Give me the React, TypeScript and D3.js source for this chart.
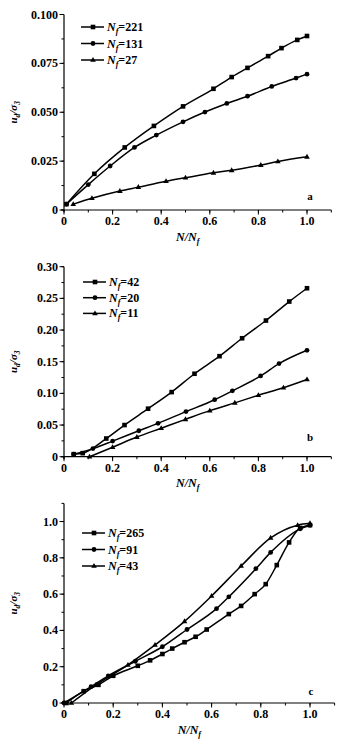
import React from "react";
import * as d3 from "d3";

// Panel a
const aLabels = ["221", "131", "27"];
const aSquare: [number, number][] = [[0.01,0.003],[0.125,0.0185],[0.25,0.032],[0.37,0.043],[0.49,0.053],[0.615,0.062],[0.69,0.068],[0.755,0.0727],[0.84,0.0787],[0.895,0.0828],[0.96,0.087],[1.0,0.089]];
const aCircle: [number, number][] = [[0.01,0.003],[0.1,0.013],[0.19,0.0225],[0.29,0.032],[0.38,0.0383],[0.49,0.0451],[0.58,0.0501],[0.67,0.0545],[0.755,0.0582],[0.855,0.0632],[0.955,0.0675],[1.0,0.0695]];
const aTriangle: [number, number][] = [[0.038,0.003],[0.115,0.006],[0.23,0.0097],[0.306,0.0117],[0.42,0.0147],[0.5,0.0165],[0.615,0.019],[0.69,0.0203],[0.81,0.023],[0.88,0.0248],[1.0,0.0272]];
const aYTicks = [0, 0.025, 0.05, 0.075, 0.1];
const aYLabels = ["0", "0.025", "0.050", "0.075", "0.100"];

// Panel b
const bLabels = ["42", "20", "11"];
const bSquare: [number, number][] = [[0.04,0.004],[0.077,0.0056],[0.174,0.0287],[0.249,0.05],[0.346,0.0758],[0.443,0.102],[0.537,0.131],[0.64,0.1587],[0.733,0.187],[0.831,0.215],[0.927,0.245],[1.0,0.266]];
const bCircle: [number, number][] = [[0.04,0.004],[0.119,0.0128],[0.2,0.0246],[0.308,0.041],[0.387,0.0527],[0.502,0.0712],[0.62,0.09],[0.693,0.104],[0.809,0.1275],[0.885,0.147],[1.0,0.168]];
const bTriangle: [number, number][] = [[0.105,0.0],[0.2,0.015],[0.3,0.031],[0.4,0.045],[0.5,0.059],[0.6,0.0727],[0.703,0.085],[0.8,0.097],[0.903,0.109],[1.0,0.122]];
const bYTicks = [0, 0.05, 0.1, 0.15, 0.2, 0.25, 0.3];
const bYLabels = ["0", "0.05", "0.10", "0.15", "0.20", "0.25", "0.30"];

// Panel c
const cLabels = ["265", "91", "43"];
const cSquare: [number, number][] = [[0.01,0.0],[0.08,0.065],[0.14,0.1],[0.2,0.15],[0.3,0.205],[0.35,0.235],[0.4,0.27],[0.44,0.3],[0.49,0.335],[0.535,0.365],[0.58,0.405],[0.67,0.49],[0.72,0.535],[0.775,0.6],[0.82,0.655],[0.865,0.76],[0.915,0.885],[0.96,0.965],[1.0,0.98]];
const cCircle: [number, number][] = [[0.0,0.0],[0.11,0.09],[0.18,0.15],[0.29,0.23],[0.4,0.31],[0.5,0.405],[0.62,0.52],[0.67,0.585],[0.78,0.74],[0.84,0.83],[0.96,0.96],[1.0,0.98]];
const cTriangle: [number, number][] = [[0.03,0.0],[0.13,0.1],[0.26,0.21],[0.37,0.32],[0.49,0.45],[0.6,0.59],[0.72,0.755],[0.84,0.91],[0.95,0.98],[1.0,0.99]];
const cYTicks = [0, 0.2, 0.4, 0.6, 0.8, 1.0];
const cYLabels = ["0", "0.2", "0.4", "0.6", "0.8", "1.0"];

const xTicks = [0, 0.2, 0.4, 0.6, 0.8, 1.0];
const xLabels = ["0", "0.2", "0.4", "0.6", "0.8", "1.0"];
const panelLetters = ["a", "b", "c"];

const FONT = "'Liberation Serif', 'DejaVu Serif', serif";

type Pt = [number, number];

function Marker({ kind, x, y }: { kind: number; x: number; y: number }) {
  if (kind === 0) return <rect x={x - 2.3} y={y - 2.3} width={4.6} height={4.6} fill="#000" />;
  if (kind === 1) return <circle cx={x} cy={y} r={2.4} fill="#000" />;
  const s = 5.6;
  const h = s * 0.866;
  return <path d={`M${x},${y - h * 0.62}L${x + s / 2},${y + h * 0.38}L${x - s / 2},${y + h * 0.38}Z`} fill="#000" />;
}

function Panel(props: {
  series: Pt[][];
  labels: string[];
  yTicks: number[];
  yLabels: string[];
  yMinor: number;
  yMax: number;
  xRange: [number, number];
  yRange: [number, number];
  legendX: number;
  legendY: number;
  legendGap: number;
  letter: string;
  letterPos: [number, number];
  xTitleY: number;
}) {
  const { series, labels, yTicks, yLabels, yMinor, yMax, xRange, yRange, legendX, legendY, legendGap, letter, letterPos, xTitleY } = props;
  const x = d3.scaleLinear().domain([0, 1.1]).range(xRange);
  const y = d3.scaleLinear().domain([0, yMax]).range(yRange);
  const line = d3.line<Pt>().x((d) => x(d[0])).y((d) => y(d[1])).curve(d3.curveMonotoneX);
  const x0 = x(0);
  const y0 = y(0);
  const yMinorTicks = d3.range(0, yMax + 1e-9, yMinor);
  const xMinorTicks = d3.range(0, 1.1 + 1e-9, 0.1);
  const midY = (y(0) + y(yMax)) / 2;
  return (
    <g>
      <line x1={x0} x2={x0} y1={y0 + 2} y2={y(yMax)} stroke="#000" strokeWidth={1.2} />
      <line x1={x0 - 3} x2={x(1.1)} y1={y0} y2={y0} stroke="#000" strokeWidth={1.2} />
      {yMinorTicks.map((t, i) => (
        <line key={"ym" + i} x1={x0 - 2.5} x2={x0} y1={y(t)} y2={y(t)} stroke="#000" strokeWidth={1} />
      ))}
      {yTicks.map((t, i) => (
        <g key={"y" + i}>
          <line x1={x0 - 4.5} x2={x0} y1={y(t)} y2={y(t)} stroke="#000" strokeWidth={1} />
          <text x={x0 - 6} y={y(t) + 4} textAnchor="end" fontSize={12} fontWeight="bold" fontFamily={FONT}>{yLabels[i]}</text>
        </g>
      ))}
      {xMinorTicks.map((t, i) => (
        <line key={"xm" + i} x1={x(t)} x2={x(t)} y1={y0} y2={y0 + 2.5} stroke="#000" strokeWidth={1} />
      ))}
      {xTicks.map((t, i) => (
        <g key={"x" + i}>
          <line x1={x(t)} x2={x(t)} y1={y0} y2={y0 + 4.5} stroke="#000" strokeWidth={1} />
          <text x={x(t)} y={y0 + 15} textAnchor="middle" fontSize={12} fontWeight="bold" fontFamily={FONT}>{xLabels[i]}</text>
        </g>
      ))}
      <text x={(x(0) + x(1.1)) / 2 - 10} y={xTitleY} textAnchor="middle" fontSize={12} fontWeight="bold" fontStyle="italic" fontFamily={FONT}>
        N/N<tspan fontSize={8} dy={3}>f</tspan>
      </text>
      <text transform={`translate(17,${midY}) rotate(-90)`} textAnchor="middle" fontSize={11} fontWeight="bold" fontStyle="italic" fontFamily={FONT}>
        u<tspan fontSize={7.5} dy={3}>d</tspan><tspan dy={-3}>/σ</tspan><tspan fontSize={7.5} dy={3}>3</tspan>
      </text>
      {series.map((s, k) => (
        <g key={"s" + k}>
          <path d={line(s) || ""} fill="none" stroke="#000" strokeWidth={1.5} />
          {s.map((d, i) => (
            <Marker key={i} kind={k} x={x(d[0])} y={y(d[1])} />
          ))}
        </g>
      ))}
      {labels.map((lab, k) => {
        const ly = legendY + k * legendGap;
        return (
          <g key={"l" + k}>
            <line x1={legendX} x2={legendX + 23} y1={ly} y2={ly} stroke="#000" strokeWidth={1.5} />
            <Marker kind={k} x={legendX + 12} y={ly} />
            <text x={legendX + 26} y={ly + 4} fontSize={12} fontWeight="bold" fontFamily={FONT}>
              <tspan fontStyle="italic">N</tspan>
              <tspan fontStyle="italic" fontSize={8} dy={3}>f</tspan>
              <tspan dy={-3}>={lab}</tspan>
            </text>
          </g>
        );
      })}
      <text x={letterPos[0]} y={letterPos[1]} textAnchor="middle" fontSize={11} fontWeight="bold" fontFamily={FONT}>{letter}</text>
    </g>
  );
}

export default function App() {
  return (
    <svg width={352} height={743} style={{ position: "absolute", left: 0, top: 0, background: "#fff" }}>
      <rect width={352} height={743} fill="#fff" />
      <Panel
        series={[aSquare, aCircle, aTriangle]}
        labels={aLabels}
        yTicks={aYTicks}
        yLabels={aYLabels}
        yMinor={0.0125}
        yMax={0.1}
        xRange={[64, 64 + 1.1 * 243]}
        yRange={[210, 14.5]}
        legendX={81}
        legendY={27}
        legendGap={16.5}
        letter={panelLetters[0]}
        letterPos={[310, 200]}
        xTitleY={241}
      />
      <Panel
        series={[bSquare, bCircle, bTriangle]}
        labels={bLabels}
        yTicks={bYTicks}
        yLabels={bYLabels}
        yMinor={0.025}
        yMax={0.3}
        xRange={[64, 64 + 1.1 * 243]}
        yRange={[456.7, 266.7]}
        legendX={83}
        legendY={282}
        legendGap={15.7}
        letter={panelLetters[1]}
        letterPos={[310, 441]}
        xTitleY={487}
      />
      <Panel
        series={[cSquare, cCircle, cTriangle]}
        labels={cLabels}
        yTicks={cYTicks}
        yLabels={cYLabels}
        yMinor={0.1}
        yMax={1.1}
        xRange={[64, 64 + 1.1 * 246]}
        yRange={[703, 503.4]}
        legendX={82}
        legendY={533}
        legendGap={16.5}
        letter={panelLetters[2]}
        letterPos={[311, 695]}
        xTitleY={734}
      />
    </svg>
  );
}
